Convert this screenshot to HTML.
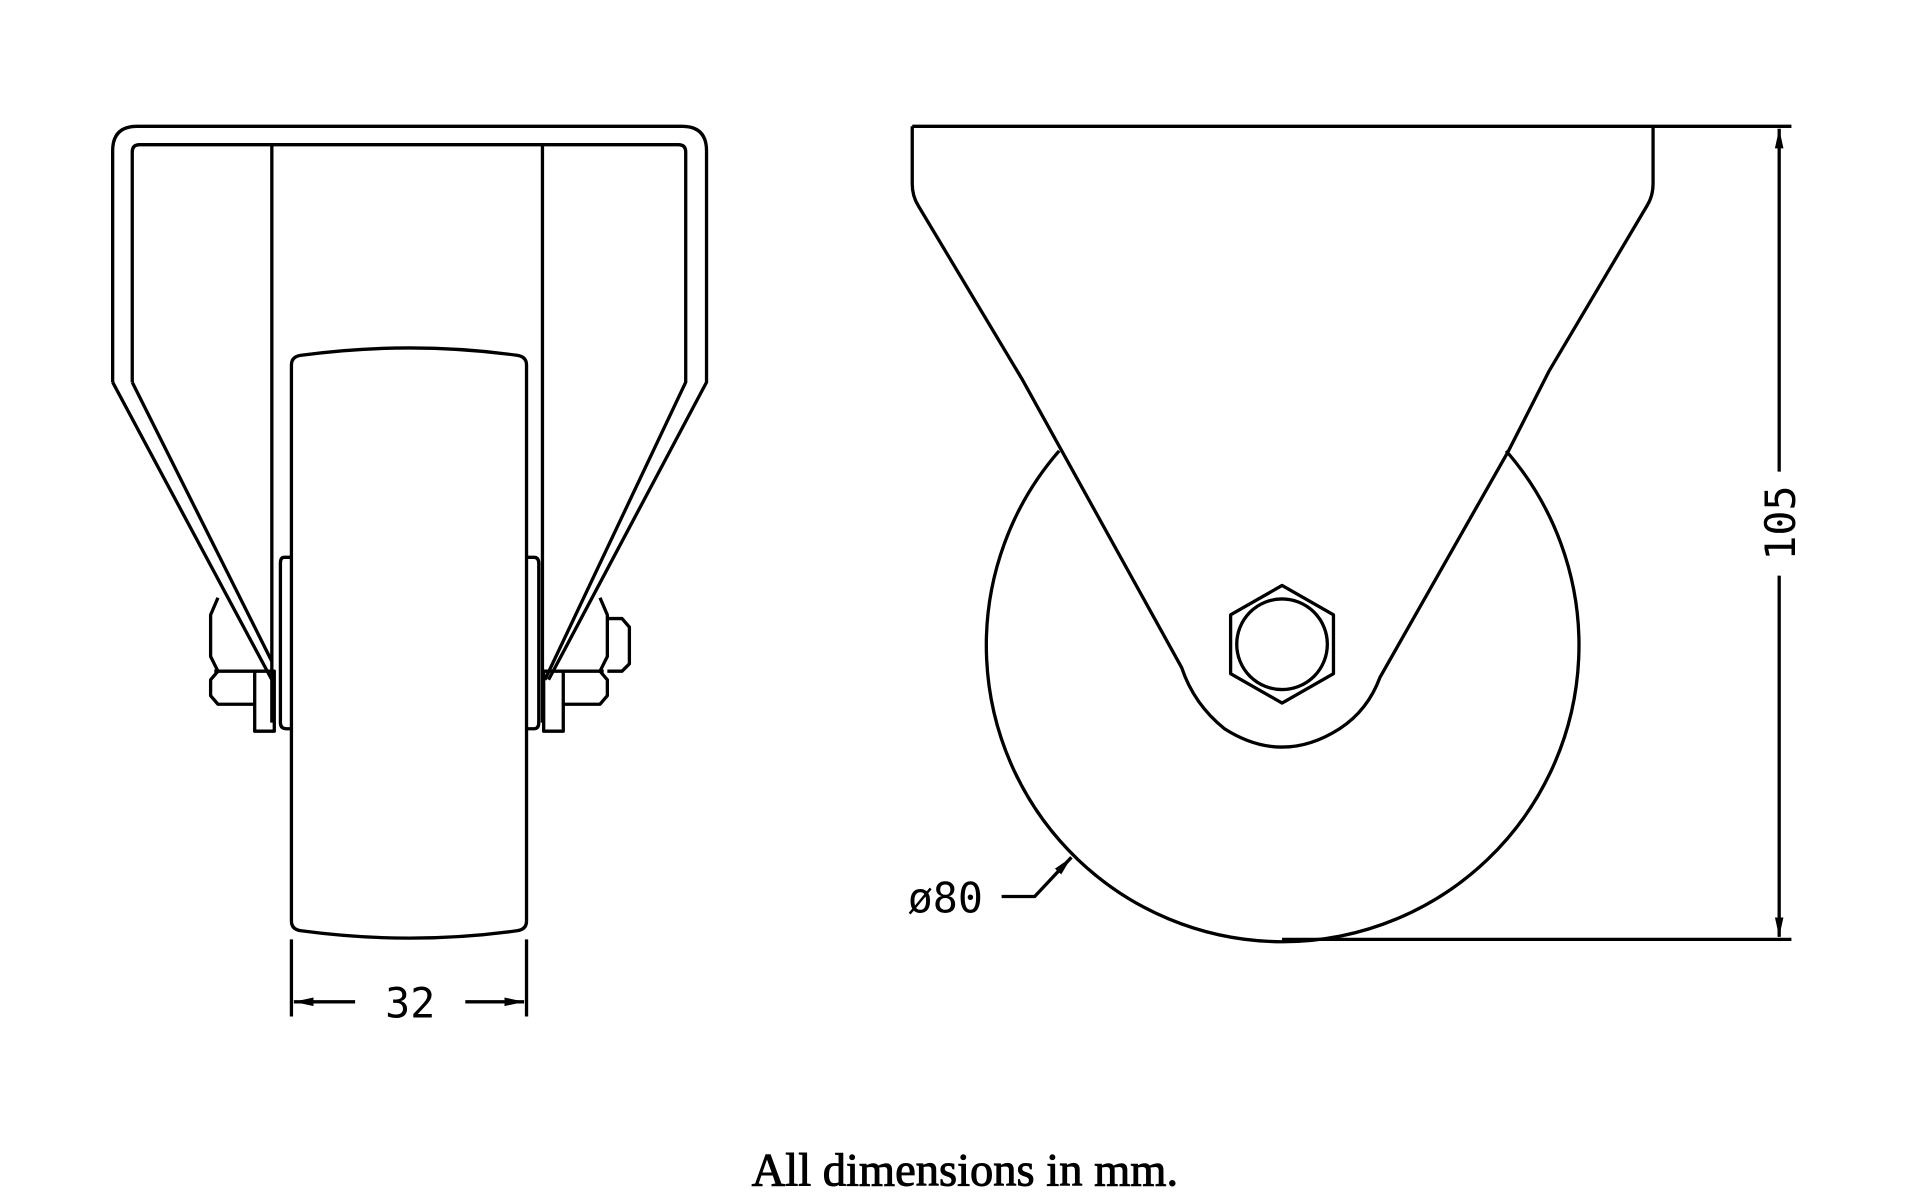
<!DOCTYPE html>
<html><head><meta charset="utf-8"><style>html,body{margin:0;padding:0;background:#fff}svg{display:block}</style></head><body>
<svg width="1920" height="1193" viewBox="0 0 1568 974" xmlns="http://www.w3.org/2000/svg">
<defs><marker id="ar" viewBox="0 0 10 10" refX="10" refY="5" markerWidth="16" markerHeight="7" markerUnits="userSpaceOnUse" orient="auto-start-reverse" preserveAspectRatio="none"><path d="M0,0 L10,5 L0,10 z" fill="#000"/></marker></defs>
<g fill="none" stroke="#000" stroke-width="2.7" stroke-linejoin="round">
<path d="M92,312 V123 Q92,103 112,103 H557 Q577,103 577,123 V312 L448,555"/>
<path d="M92,312 L222,555"/>
<path d="M108,312 V124 Q108,118 114,118 H554 Q560,118 560,124 V312 L445,555"/>
<path d="M108,312 L222,540"/>
<path d="M222,118 V590 M443,118 V590"/>
<path d="M238,298 Q238,291 246,290 Q335,278 422,290 Q430,291 430,298 V752 Q430,759 422,760 Q335,772 246,760 Q238,759 238,752 Z"/>
<path d="M238,455 H232 Q229,455 229,460 V590 Q229,595 234,595 H238"/>
<path d="M430,455 H436 Q440,455 440,460 V590 Q440,595 436,595 H430"/>
<path d="M178,488 L172,502 V536 L178,548 L172,555 V568 L178,575 H208"/>
<path d="M175,548 H208"/>
<path d="M208,548 H224 V597 H208 Z"/>
<path d="M490,488 L496,502 V536 L490,548 L496,555 V568 L490,575 H460"/>
<path d="M493,548 H460"/>
<path d="M444,548 H460 V597 H444 Z"/>
<path d="M496,505 H508 L514,512 V542 L508,548 H496"/>
<path d="M238,767 V830 M430,767 V830"/>
<path d="M290,818 H240" marker-end="url(#ar)"/>
<path d="M380,818 H428" marker-end="url(#ar)"/>
<path d="M745,103 H1463"/>
<path d="M745,103 V150 Q745,160 750,168 L835,310 L965,545 Q975,575 1000,595 Q1047,625 1094,595 Q1117,580 1127,553 L1232,368 L1265,303 L1345,168 Q1350,160 1350,150 V103"/>
<path d="M865,368 A242,242 0 1 0 1230,368"/>
<path d="M1047,478 L1089,502 V550 L1047,574 L1005,550 V502 Z"/>
<circle cx="1047" cy="526" r="37"/>
<path d="M1047,767 H1463"/>
<path d="M1453,385 V105" marker-end="url(#ar)"/>
<path d="M1453,470 V765" marker-end="url(#ar)"/>
<path d="M818,732 H845 L875,700" marker-end="url(#ar)"/>
</g>
<g font-family="'DejaVu Sans Mono','Liberation Mono',monospace" font-size="34" fill="#000">
<text x="335" y="831" text-anchor="middle">32</text>
<text x="772" y="745" text-anchor="middle">ø80</text>
<text transform="translate(1466,427) rotate(-90)" text-anchor="middle">105</text>
</g>
<text x="788" y="968" text-anchor="middle" font-family="'Liberation Serif',serif" font-size="38" fill="#000" stroke="#000" stroke-width="0.8">All dimensions in mm.</text>
</svg>
</body></html>
